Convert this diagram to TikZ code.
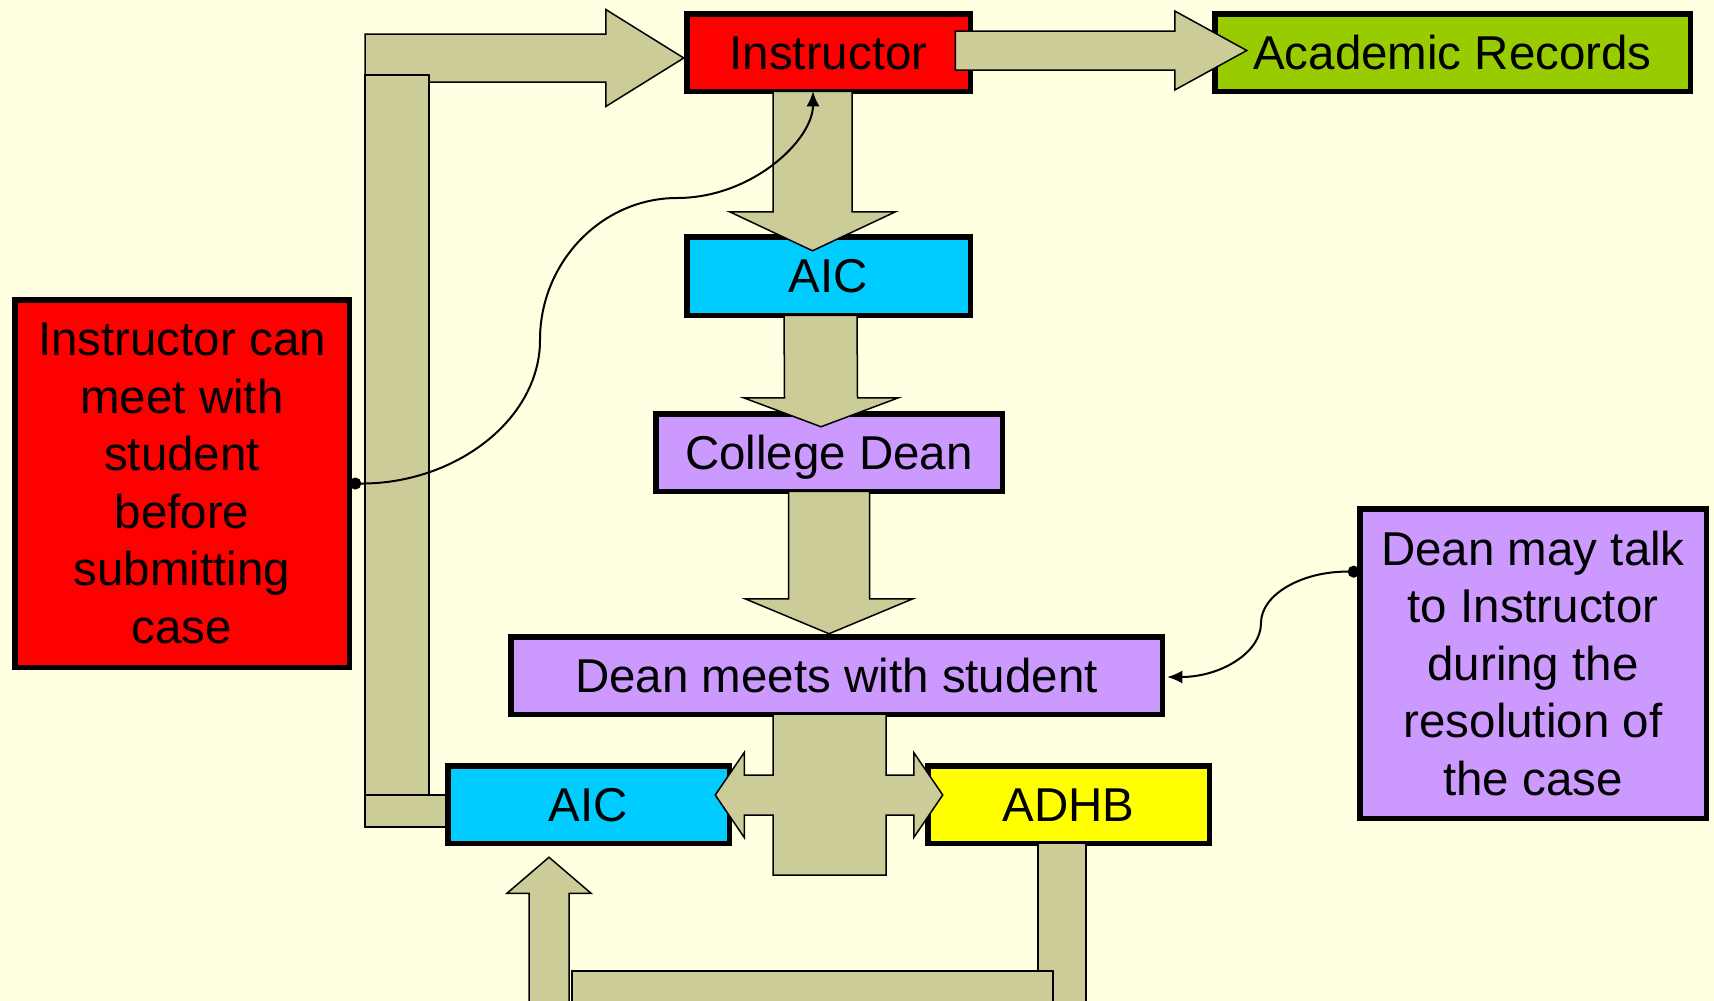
\documentclass[tikz,border=0pt]{standalone}
\usepackage{fontspec}
\setmainfont{Liberation Sans}
\usetikzlibrary{arrows.meta, calc}

\definecolor{bgyellow}{RGB}{255,255,225}
\definecolor{pipefill}{RGB}{204,204,153}
\definecolor{boxred}{RGB}{255,0,0}
\definecolor{boxgreen}{RGB}{153,204,0}
\definecolor{boxcyan}{RGB}{0,204,255}
\definecolor{boxlilac}{RGB}{204,153,255}
\definecolor{boxyellow}{RGB}{255,255,0}

% fat vertical arrow: shaft end #1, tip #2, shaft half width #3, head half width #4, head length #5
\newcommand\fatvert[5]{%
  \draw[pipe] ($(#1)+(-#3,0)$) -- ($(#1)+(#3,0)$) -- ($(#2)+({#3},{-1*(#5)})$) -- ($(#2)+({#4},{-1*(#5)})$) -- (#2)
    -- ($(#2)+({-#4},{-1*(#5)})$) -- ($(#2)+({-#3},{-1*(#5)})$) -- cycle;}
% fat arrow pointing right, same arguments
\newcommand\fatright[5]{%
  \draw[pipe] ($(#1)+(0,-#3)$) -- ($(#2)+(-#5,-#3)$) -- ($(#2)+(-#5,-#4)$) -- (#2)
    -- ($(#2)+(-#5,#4)$) -- ($(#2)+(-#5,#3)$) -- ($(#1)+(0,#3)$) -- cycle;}

\begin{document}
\begin{tikzpicture}[x=1pt, y=-1pt,
    box/.style={draw, line width=5.5pt, inner sep=0pt, outer sep=0pt,
      font=\fontsize{47.5}{57.5}\selectfont},
    single/.style={box, minimum height=77.5pt, text height=43pt, text depth=10pt},
    pipe/.style={draw, fill=pipefill, line width=1.5pt},
    note/.style={{Circle[length=12pt]}-{Latex[length=15pt,width=13pt]}, line width=2pt}]
  \useasboundingbox (0,0) rectangle (1714,1001);
  \fill[bgyellow] (0,0) rectangle (1714,1001);
  \clip (0,0) rectangle (1714,1001);

  % boxes
  \node[single, fill=boxred, minimum width=283.5pt] (instr) at (828.5,52.5) {Instructor};
  \node[single, fill=boxgreen, minimum width=475.5pt] (records) at (1452.5,52.5) {Academic Records};
  \node[single, fill=boxcyan, minimum width=283.5pt, minimum height=78.5pt] (aictop) at (828.5,276) {AIC};
  \node[single, fill=boxlilac, minimum width=346.5pt] (college) at (829,452.5) {College Dean};
  \node[single, fill=boxlilac, minimum width=651.5pt] (meets) at (836.5,675.5) {Dean meets with student};
  \node[single, fill=boxcyan, minimum width=281.5pt] (aicbot) at (588.5,804.5) {AIC};
  \node[single, fill=boxyellow, minimum width=281.5pt] (adhb) at (1068.5,804.5) {ADHB};
  \node[box, fill=boxred, minimum width=334.5pt, minimum height=367.5pt, align=center] (leftnote) at (182,483.5)
    {Instructor can\\meet with\\student\\before\\submitting\\case};
  \node[box, fill=boxlilac, minimum width=346.5pt, minimum height=309.5pt, align=center] (rightnote) at (1533,663.5)
    {Dean may talk\\to Instructor\\during the\\resolution of\\the case};

  % arrow ends
  \coordinate (loopend) at ([xshift=-3pt,yshift=-5.5pt]instr.west);
  \coordinate (recout) at ([xshift=-15pt,yshift=2pt]instr.east);
  \coordinate (recin) at ([xshift=32pt,yshift=2pt]records.west);
  \coordinate (a1s) at ([xshift=-16pt]instr.south);
  \coordinate (a1t) at ([xshift=-16pt,yshift=-14pt]aictop.north);
  \coordinate (a2s) at ([xshift=-8pt]aictop.south);
  \coordinate (a2t) at ([xshift=-8pt,yshift=-13pt]college.north);
  \coordinate (a3t) at ([xshift=-7.5pt,yshift=3pt]meets.north);
  \coordinate (dl) at ([xshift=-14pt,yshift=9.5pt]aicbot.east);
  \coordinate (dr) at ([xshift=15pt,yshift=9.5pt]adhb.west);
  \coordinate (upt) at ([xshift=-39.5pt,yshift=-14pt]aicbot.south);
  \coordinate (instrin) at ([xshift=-15.5pt]instr.south);
  \coordinate (rnout) at ([yshift=-63pt]rightnote.north west);
  \coordinate (meetsin) at ([xshift=5pt,yshift=-1.5pt]meets.east);

  % block arrows
  \fatright{365,58}{loopend}{24}{48.5}{78}
  \draw[pipe] (365,75) rectangle (429,795);
  \draw[pipe] (365,795) rectangle (446,827);
  \fatright{recout}{recin}{19.5}{39.5}{72}
  \fatvert{a1s}{a1t}{39.5}{83}{39}
  \fatvert{a2s}{a2t}{36.5}{77.5}{29}
  \fatvert{college.south}{a3t}{40.5}{84}{35}
  \draw[pipe] (dl) -- ++(29,-42.5) -- ++(0,22.5) -- (773,775) -- (773,714) -- (886,714) -- (886,775)
    -- ($(dr)+(-29,-20)$) -- ++(0,-22.5) -- (dr) -- ++(-29,42.5) -- ++(0,-22.5) -- (886,815)
    -- (886,875) -- (773,875) -- (773,815) -- ($(dl)+(29,20)$) -- ++(0,22.5) -- cycle;
  \draw[pipe] (1038,843) rectangle (1086,1020);
  \draw[pipe] (572,971) rectangle (1053,1020);
  \fatvert{549,1020}{upt}{20}{42}{-36}

  % remarks
  \draw[note] (leftnote.east) .. controls (456,484) and (540,419) .. (540,340)
    .. controls (540,262) and (602,198) .. (677,198) .. controls (752,198) and (813,140) .. (instrin);
  \draw[note] (rnout) .. controls (1303,571) and (1261,594) .. (1261,623)
    .. controls (1261,653) and (1220,677) .. (meetsin);
\end{tikzpicture}
\end{document}
